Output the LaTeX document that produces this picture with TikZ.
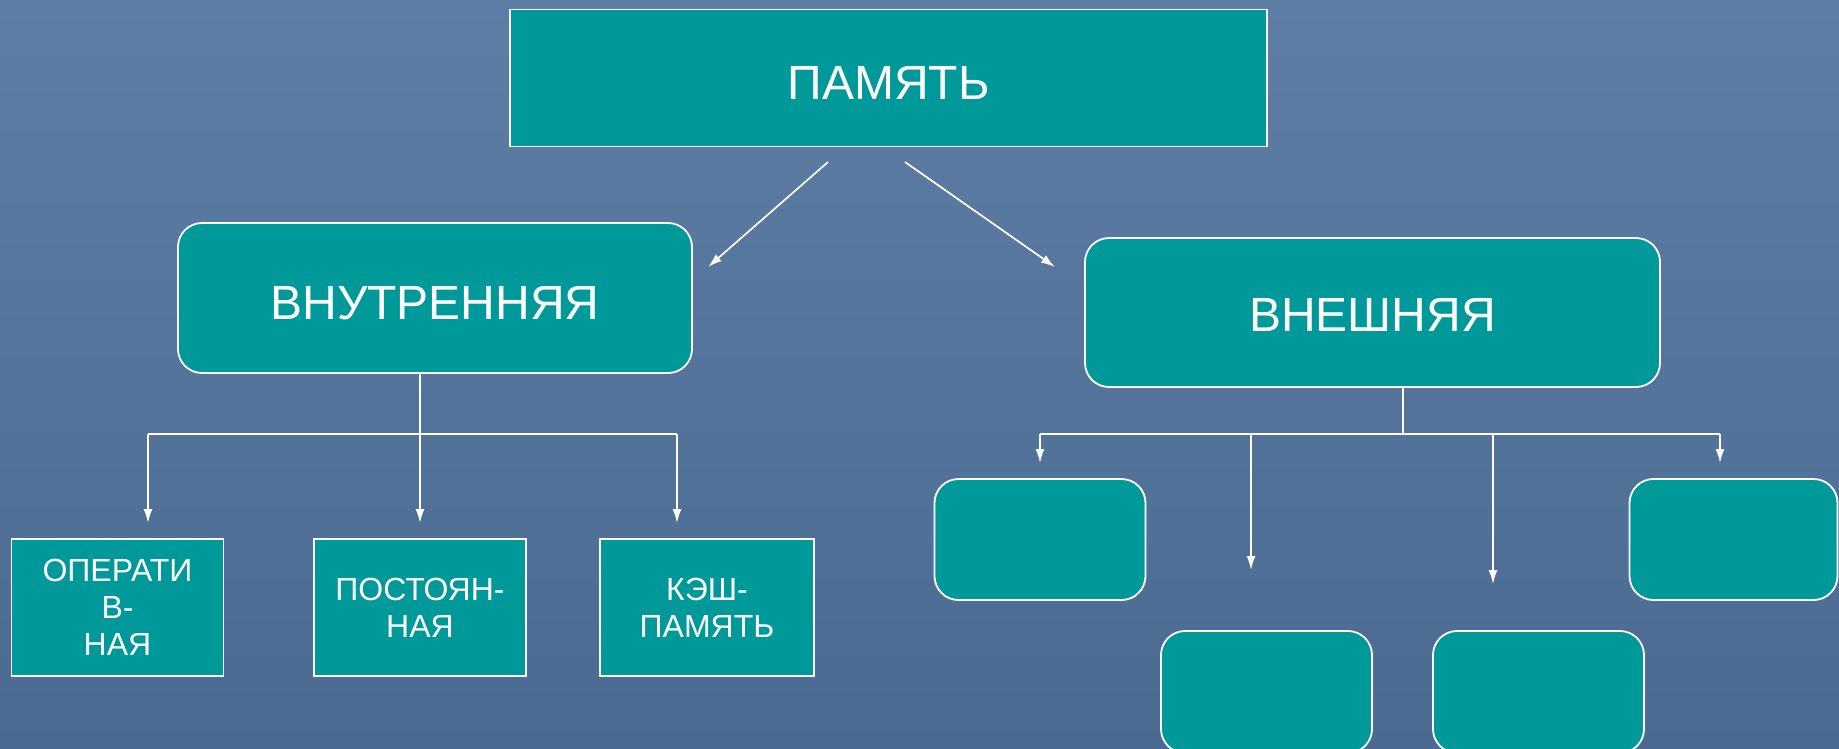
\documentclass[tikz,border=0pt]{standalone}
\usepackage{fontspec}
\setmainfont{Liberation Sans}
\usetikzlibrary{arrows.meta}
\definecolor{bgtop}{RGB}{94,126,166}
\definecolor{bgbot}{RGB}{74,106,146}
\definecolor{teal}{RGB}{0,153,153}
\tikzset{
  sqbox/.style={draw=white, line width=1.8pt, fill=teal, text=white, inner sep=0pt, align=center},
  rbox/.style={sqbox, rounded corners=24pt},
  bigtext/.style={font=\fontsize{48}{56}\selectfont, text depth=0pt},
  smalltext/.style={font=\fontsize{32}{37}\selectfont},
  conn/.style={draw=white, line width=1.7pt},
  arr/.style={conn, -{Latex[length=14pt,width=9pt]}},
}
\begin{document}
\begin{tikzpicture}[x=1pt,y=-1pt]
\useasboundingbox (0,0) rectangle (1839,748);
\clip (0,0) rectangle (1839,748);
\fill[top color=bgtop, bottom color=bgbot] (0,0) rectangle (1839,748);

% main nodes
\node[sqbox, bigtext, text height=43pt, minimum width=757pt, minimum height=137pt] (mem) at (888.5,78) {ПАМЯТЬ};
\node[rbox, bigtext, text height=43pt, minimum width=514pt, minimum height=150pt] (inner) at (435,298) {ВНУТРЕННЯЯ};
\node[rbox, bigtext, text height=38pt, minimum width=575pt, minimum height=149pt] (outer) at (1372.5,312.5) {ВНЕШНЯЯ};

% inner children
\node[sqbox, smalltext, minimum width=212pt, minimum height=137pt] (op) at (117.5,607.5) {ОПЕРАТИ\\В-\\НАЯ};
\node[sqbox, smalltext, minimum width=212pt, minimum height=137pt] (post) at (420,607.5) {ПОСТОЯН-\\НАЯ};
\node[sqbox, smalltext, minimum width=214pt, minimum height=137pt] (kesh) at (707,607.5) {КЭШ-\\ПАМЯТЬ};

% outer children
\node[rbox, minimum width=211pt, minimum height=121pt] (e1) at (1040,539.5) {};
\node[rbox, minimum width=208pt, minimum height=121pt] (e4) at (1733.5,539.5) {};
\node[rbox, minimum width=211pt, minimum height=122pt] (e2) at (1266.5,692) {};
\node[rbox, minimum width=211pt, minimum height=122pt] (e3) at (1538.5,692) {};

% arrows from ПАМЯТЬ
\coordinate (m1) at (828,162);
\coordinate (m1t) at (708,267);
\coordinate (m2) at (905,162);
\coordinate (m2t) at (1055,267);
\draw[arr] (m1) -- (m1t);
\draw[arr] (m2) -- (m2t);

% inner tree
\coordinate (ij) at (420,434);
\coordinate (il) at (148,434);
\coordinate (ir) at (677,434);
\coordinate (ilt) at (148,523);
\coordinate (imt) at (420,523);
\coordinate (irt) at (677,523);
\draw[conn] (inner.south -| ij) -- (ij);
\draw[conn] (il) -- (ir);
\draw[arr] (il) -- (ilt);
\draw[arr] (ij) -- (imt);
\draw[arr] (ir) -- (irt);

% outer tree
\coordinate (oj) at (1403,434);
\coordinate (o1) at (1040,434);
\coordinate (o2) at (1251,434);
\coordinate (o3) at (1493,434);
\coordinate (o4) at (1720,434);
\coordinate (o1t) at (1040,463);
\coordinate (o2t) at (1251,570);
\coordinate (o3t) at (1493,584);
\coordinate (o4t) at (1720,463);
\draw[conn] (outer.south -| oj) -- (oj);
\draw[conn] (o1) -- (o4);
\draw[arr] (o1) -- (o1t);
\draw[arr] (o2) -- (o2t);
\draw[arr] (o3) -- (o3t);
\draw[arr] (o4) -- (o4t);
\end{tikzpicture}
\end{document}
